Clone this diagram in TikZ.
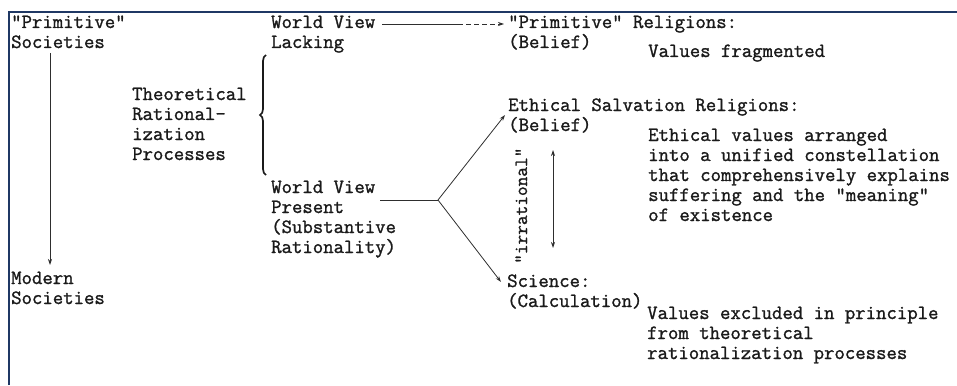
\documentclass[tikz,border=0pt]{standalone}
\usepackage{fontspec}
\setmonofont[FakeBold=1.3]{Latin Modern Mono}
\usetikzlibrary{arrows.meta,decorations.pathreplacing,calc}
\definecolor{framecol}{HTML}{1F3864}
\definecolor{ink}{HTML}{1A1A1A}
\definecolor{linecol}{HTML}{2E2E2E}
\tikzset{
  txt/.style={anchor=base west, inner sep=0pt, align=left, text=ink,
    font=\ttfamily\fontsize{20.2}{20}\selectfont},
  conn/.style={draw=linecol, line width=0.8pt},
  arr/.style={conn, -{Stealth[length=6pt,width=4pt]}},
  darr/.style={conn, {Stealth[length=6pt,width=4pt]}-{Stealth[length=6pt,width=4pt]}},
  bracestyle/.style={draw=ink, line width=1.7pt, decorate,
    decoration={brace, amplitude=6pt}},
}
\begin{document}
\begin{tikzpicture}[x=1pt, y=-1pt]
\useasboundingbox (0,0) rectangle (957,385);

% frame edges
\draw[framecol, line width=2pt] (9,385) -- (9,12) -- (957,12);

% left column: societies (each node sits on the baseline of its last line)
\node[txt] (prim)   at (11,48)  {"Primitive"\\Societies};
\node[txt] (modern) at (11,304) {Modern\\Societies};
\node[txt] (theo)   at (132,160) {Theoretical\\Rational-\\ization\\Processes};

% world views
\node[txt] (wvl) at (271,48)  {World View\\Lacking};
\node[txt] (wvp) at (271,253) {World View\\Present\\(Substantive\\Rationality)};

% outcomes
\node[txt] (primrel) at (508,48)  {"Primitive" Religions:\\(Belief)};
\node[txt] (valfrag) at (648,57)  {Values fragmented};
\node[txt] (ethrel)  at (508,131) {Ethical Salvation Religions:\\(Belief)};
\node[txt] (ethval)  at (648,221) {Ethical values arranged\\into a unified constellation\\that comprehensively explains\\suffering and the "meaning"\\of existence};
\node[txt] (sci)     at (507,307) {Science:\\(Calculation)};
\node[txt] (valexc)  at (647,359) {Values excluded in principle\\from theoretical\\rationalization processes};
\node[txt, rotate=90, font=\ttfamily\fontsize{18.8}{18}\selectfont] (irr) at (527,264) {"irrational"};

% historical arrow
\draw[arr] ($(prim.base west)+(39,5)$) -- ($(modern.base west)+(39,-39)$);

% brace grouping the two world views
\draw[bracestyle] ($(wvp.base west)+(-5,-78)$) -- ($(wvl.base west)+(-5,7)$);

% world view lacking -> primitive religions
\coordinate (wvlmid) at ($(wvl.base west)+(187,-24)$);
\draw[conn] ($(wvl.base west)+(111,-24)$) -- (wvlmid);
\draw[arr, dash pattern=on 5pt off 3pt] (wvlmid) -- ($(primrel.base west)+(-4,-24)$);

% world view present -> branches
\coordinate (br) at ($(wvp.base west)+(167,-53)$);
\draw[conn] ($(wvp.base west)+(109,-53)$) -- (br);
\draw[arr] (br) -- ($(ethrel.base west)+(-3,-16)$);
\draw[arr] (br) -- ($(sci.base west)+(-6,-25)$);

% tension between belief and calculation
\draw[darr] ($(ethrel.base west)+(45,19)$) -- ($(ethrel.base west)+(45,117)$);
\end{tikzpicture}
\end{document}
